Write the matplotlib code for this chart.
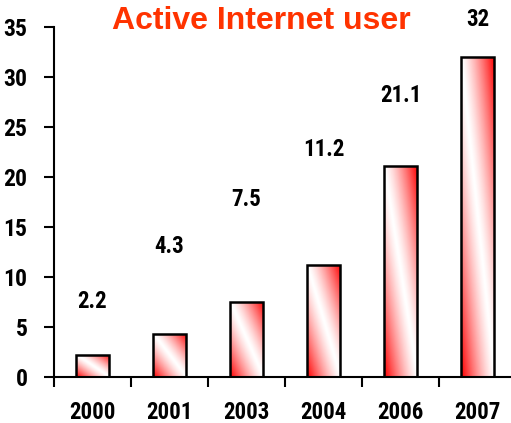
import numpy as np
import matplotlib
matplotlib.use('Agg')
from matplotlib import pyplot as plt
from matplotlib.colors import LinearSegmentedColormap
from matplotlib.patches import Rectangle

years = ['2000', '2001', '2003', '2004', '2006', '2007']
users = [2.2, 4.3, 7.5, 11.2, 21.1, 32]
# where the value labels sit (data units), as in the original slide
label_y = [7.5, 13.1, 17.8, 22.8, 28.1, 35.8]

narrow = ['Roboto Condensed', 'Liberation Sans Narrow', 'Liberation Sans', 'DejaVu Sans']
plt.rcParams['font.family'] = narrow

fig = plt.figure(figsize=(5.11, 4.23), dpi=100)
ax = fig.add_axes([54/511, 46/423, 462/511, 350/423])

cmap = LinearSegmentedColormap.from_list('wr', ['#ffffff', '#ff0000'])
u, v = np.meshgrid(np.linspace(0, 1, 60), np.linspace(0, 1, 200))
grad = np.abs(u + v - 1) ** 1.3

x = np.arange(len(years))
w = 0.43
bars = ax.bar(x, users, width=w, color='none', edgecolor='black', linewidth=1.8, zorder=3)
for b in bars:
    x0, y0 = b.get_x(), b.get_y()
    bw, bh = b.get_width(), b.get_height()
    im = ax.imshow(grad, cmap=cmap, vmin=0, vmax=1, origin='lower', aspect='auto',
                   extent=[x0, x0 + bw, y0, y0 + bh], interpolation='bilinear', zorder=2)
    clip = Rectangle((x0, y0), bw, bh, transform=ax.transData)
    im.set_clip_path(clip)

for xi, val, ly in zip(x, users, label_y):
    ax.text(xi, ly, '%g' % val, ha='center', va='center', fontsize=16.5, fontweight='bold')

ax.set_xlim(-0.5, 5.5)
ax.set_ylim(0, 35)
ax.set_yticks(range(0, 36, 5))
ax.set_xticks(x)
ax.set_xticklabels(years)
ax.set_xticks(np.arange(-0.5, 6, 1), minor=True)
ax.tick_params(axis='x', which='major', length=0, pad=17.5, labelsize=16.5)
ax.tick_params(axis='x', which='minor', length=7, width=1.5, direction='out')
ax.tick_params(axis='y', length=7, width=1.5, direction='out', pad=12, labelsize=17)
for lab in ax.get_xticklabels() + ax.get_yticklabels():
    lab.set_fontweight('bold')

for s in ['top', 'right']:
    ax.spines[s].set_visible(False)
for s in ['left', 'bottom']:
    ax.spines[s].set_linewidth(1.5)

fig.text(261/511, 1 - 21/423, 'Active Internet user', ha='center', va='center',
         fontsize=23, fontweight='bold', color='#ff3300', family=['Liberation Sans', 'DejaVu Sans'])

fig.savefig('out.png', dpi=100)
